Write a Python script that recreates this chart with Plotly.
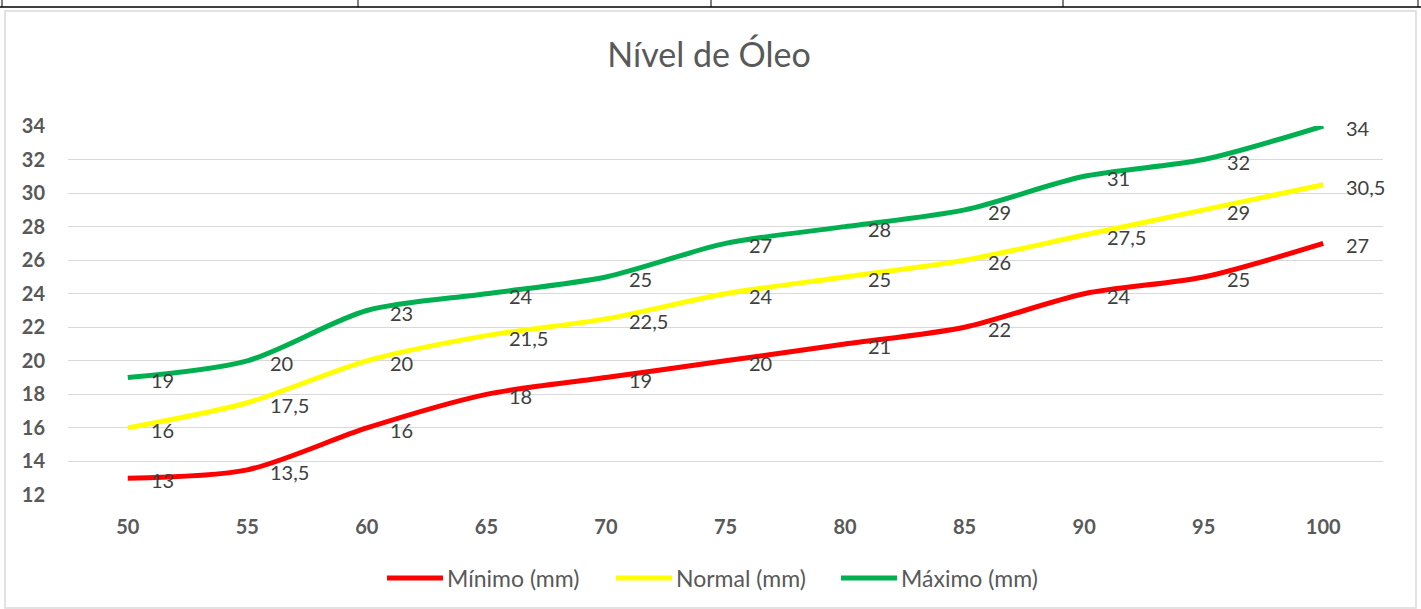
import plotly.graph_objects as go

categories = [50, 55, 60, 65, 70, 75, 80, 85, 90, 95, 100]
minimo = [13, 13.5, 16, 18, 19, 20, 21, 22, 24, 25, 27]
normal = [16, 17.5, 20, 21.5, 22.5, 24, 25, 26, 27.5, 29, 30.5]
maximo = [19, 20, 23, 24, 25, 27, 28, 29, 31, 32, 34]
series_names = ["Mínimo (mm)", "Normal (mm)", "Máximo (mm)"]
colors = ["#FF0000", "#FFFF00", "#00B050"]
y_ticks = list(range(12, 35, 2))

W, H = 1421, 609
L, R, T, B = 68, 1383, 126, 495
FONT = "Lato, Open Sans, sans-serif"


def px(x):
    return (x - L) / (R - L)


def py(y):
    return (B - y) / (B - T)


def fmt(v):
    return f"{v:g}".replace(".", ",")


fig = go.Figure()
for name, vals, col in zip(series_names, [minimo, normal, maximo], colors):
    fig.add_trace(go.Scatter(
        x=categories, y=vals, name=name, mode="lines",
        line=dict(color=col, width=5, shape="spline", smoothing=0.8),
        cliponaxis=False, showlegend=False,
    ))

annotations = []
for vals in [minimo, normal, maximo]:
    for c, v in zip(categories, vals):
        annotations.append(dict(
            x=c, y=v, xref="x", yref="y", text=fmt(v), showarrow=False,
            xanchor="left", yanchor="middle", xshift=21, yshift=-2,
            font=dict(family=FONT, size=20, color="#404040"),
        ))

shapes = []
# chart outer border
shapes.append(dict(type="rect", xref="paper", yref="paper",
                   x0=px(5), x1=px(1416), y0=py(608), y1=py(11),
                   line=dict(color="#D9D9D9", width=1.5), fillcolor="rgba(0,0,0,0)", layer="below"))
# table row lines at top
shapes.append(dict(type="line", xref="paper", yref="paper",
                   x0=px(0), x1=px(1421), y0=py(7), y1=py(7),
                   line=dict(color="#000000", width=1.5)))
for xv in [2, 358, 711, 1063, 1418]:
    shapes.append(dict(type="line", xref="paper", yref="paper",
                       x0=px(xv), x1=px(xv), y0=py(0), y1=py(7),
                       line=dict(color="#000000", width=1)))

# custom legend
legend_line_x = [387, 616, 841]
legend_y = 578
for name, col, lx in zip(series_names, colors, legend_line_x):
    shapes.append(dict(type="line", xref="paper", yref="paper",
                       x0=px(lx), x1=px(lx + 56), y0=py(legend_y), y1=py(legend_y),
                       line=dict(color=col, width=5)))
    annotations.append(dict(x=px(lx + 58), y=py(legend_y), xref="paper", yref="paper",
                            text=name, showarrow=False, xanchor="left", yanchor="middle",
                            font=dict(family=FONT, size=23, color="#595959")))

fig.update_layout(
    width=W, height=H,
    margin=dict(l=L, r=W - R, t=T, b=H - B, autoexpand=False),
    paper_bgcolor="white", plot_bgcolor="white",
    title=dict(text="Nível de Óleo", x=px(709), xref="paper", xanchor="center",
               y=1 - 55 / H, yanchor="middle",
               font=dict(family=FONT, size=34, color="#595959")),
    xaxis=dict(range=[47.5, 102.5], tickvals=categories, ticktext=[str(c) for c in categories],
               showgrid=False, zeroline=False, showline=False, ticks="",
               ticklabelstandoff=18,
               tickfont=dict(family=FONT, size=20, color="#595959", weight="bold")),
    yaxis=dict(range=[12, 34], tickvals=y_ticks, showgrid=True, gridcolor="#D9D9D9", gridwidth=1.3,
               zeroline=False, showline=False, ticks="", ticklabelstandoff=22,
               tickfont=dict(family=FONT, size=20, color="#595959", weight="bold")),
    annotations=annotations,
    shapes=shapes,
    showlegend=False,
)

fig.write_html("out.html", config={"displayModeBar": False},
               post_script="document.body.style.margin='0px';document.body.style.padding='0px';")
